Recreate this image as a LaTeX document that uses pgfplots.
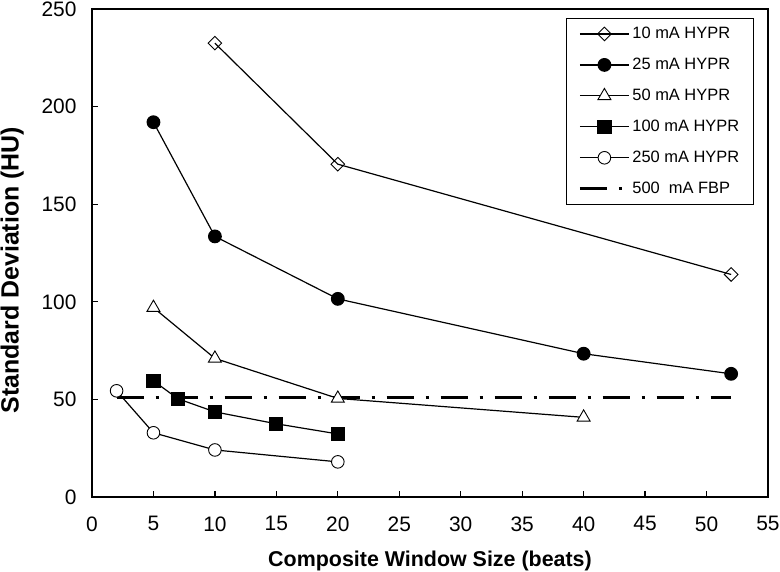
\documentclass[border=0pt]{standalone}
\usepackage{fontspec}
\setmainfont{Liberation Sans}
\usepackage{pgfplots}
\pgfplotsset{compat=1.18}
\begin{document}
\begin{tikzpicture}
\begin{axis}[
  scale only axis, width=676bp, height=488bp,
  xmin=0, xmax=55, ymin=0, ymax=250,
  xtick={0,5,...,55}, ytick={0,50,...,250},
  tick pos=left, tick align=inside, major tick length=6bp,
  axis line style={line width=1.2bp},
  tick style={line width=1.2bp, black},
  /pgf/number format/assume math mode=true,
  ticklabel style={font=\fontsize{21}{25}\selectfont},
  xticklabel style={yshift=-16bp},
  yticklabel style={xshift=-12bp},
  xlabel={Composite Window Size (beats)},
  ylabel={Standard Deviation (HU)},
  xlabel style={font=\bfseries\fontsize{21.5}{25}\selectfont, at={(axis description cs:0.5,-0.131)}, anchor=center},
  ylabel style={font=\bfseries\fontsize{25}{30}\selectfont, at={(axis description cs:-0.118,0.465)}, anchor=center},
  legend style={at={(axis description cs:0.979,0.9816)}, anchor=north east, draw=black, line width=1bp,
    font=\fontsize{16.5}{19}\selectfont, row sep=14bp, inner xsep=12bp, inner ysep=7bp},
  legend cell align=left,
  legend image code/.code={\draw[mark repeat=2,mark phase=2,#1] plot coordinates {(0bp,0bp)(24.5bp,0bp)(49bp,0bp)};},
]
\addplot[black, line width=3bp, dash pattern=on 27bp off 12bp on 3bp off 12bp, forget plot] coordinates {(2,51)(52,51)};
\addplot[black, line width=1.2bp, mark=square, mark size=4.8bp, mark options={fill=white, rotate=45, line width=0.9bp, solid}] coordinates {(10,232.5)(20,170.5)(52,114)};
\addlegendentry{10 mA HYPR}
\addplot[black, line width=1.2bp, mark=*, mark size=6.3bp, mark options={fill=black, solid}] coordinates {(5,192)(10,133.5)(20,101.5)(40,73.4)(52,63.1)};
\addlegendentry{25 mA HYPR}
\addplot[black, line width=1.2bp, mark=triangle*, mark size=7.5bp, mark options={fill=white, line width=0.9bp, solid}] coordinates {(5,97)(10,71)(20,50.5)(40,40.8)};
\addlegendentry{50 mA HYPR}
\addplot[black, line width=1.2bp, mark=square*, mark size=6.5bp, mark options={fill=black, solid}] coordinates {(5,59.5)(7,50.3)(10,43.6)(15,37.5)(20,32.3)};
\addlegendentry{100 mA HYPR}
\addplot[black, line width=1.2bp, mark=*, mark size=6.3bp, mark options={fill=white, line width=0.9bp, solid}] coordinates {(2,54.4)(5,32.9)(10,24.1)(20,18)};
\addlegendentry{250 mA HYPR}
\addlegendimage{black, line width=3bp, dash pattern=on 27bp off 12bp on 3bp off 12bp}
\addlegendentry{500~~mA FBP}
\end{axis}
\pgfresetboundingbox
\path[use as bounding box] (-92bp,-75bp) rectangle (688bp,497bp);
\end{tikzpicture}
\end{document}
